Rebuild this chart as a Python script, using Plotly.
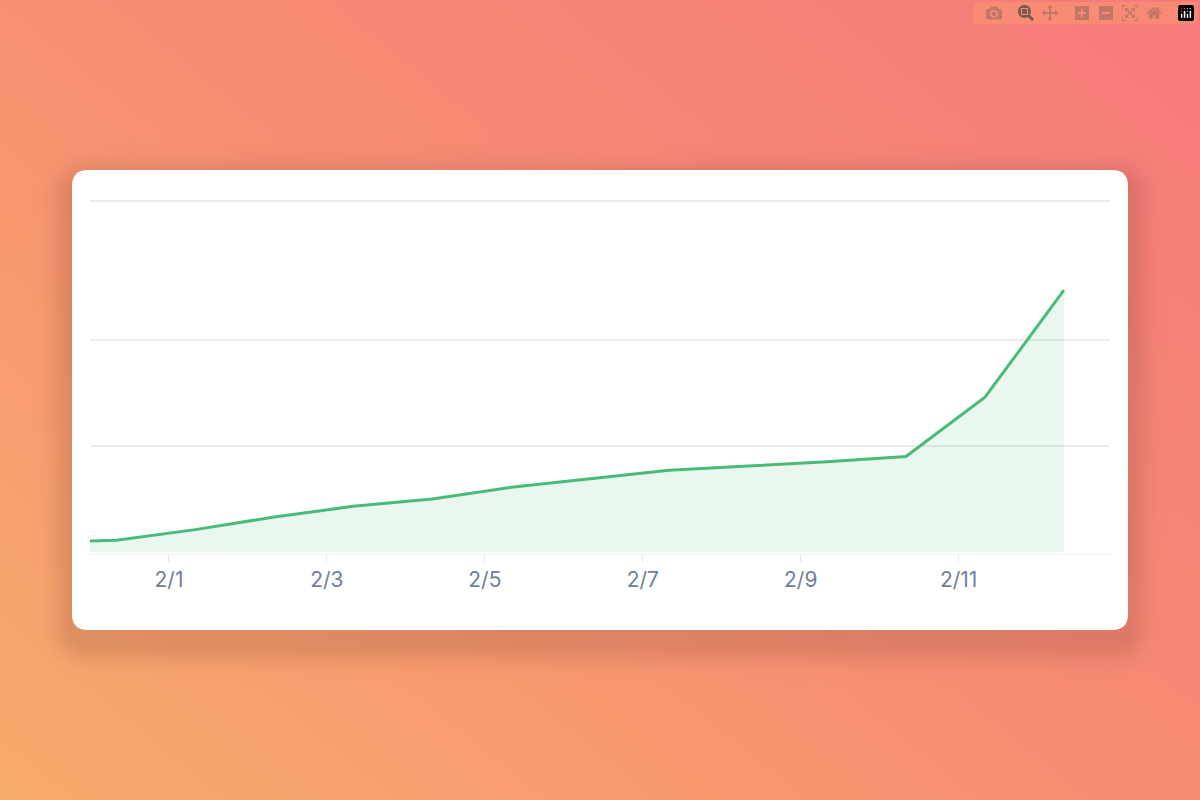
import base64
import struct
import zlib

import numpy as np
import plotly.graph_objects as go

# data (one point per day)
dates = ['2024-01-30 08:00', '2024-01-31 08:00', '2024-02-01 08:00', '2024-02-02 08:00',
         '2024-02-03 08:00', '2024-02-04 08:00', '2024-02-05 08:00', '2024-02-06 08:00',
         '2024-02-07 08:00', '2024-02-08 08:00', '2024-02-09 08:00', '2024-02-10 08:00',
         '2024-02-11 08:00', '2024-02-12 08:00']
values = [9, 11, 21, 33, 43, 50, 61, 69, 77, 81, 85, 90, 146, 247]
tick_dates = ['2024-02-01', '2024-02-03', '2024-02-05', '2024-02-07', '2024-02-09', '2024-02-11']
tick_labels = ['2/1', '2/3', '2/5', '2/7', '2/9', '2/11']

W, H = 1200, 800
card = (72, 170, 1128, 630, 16)


def background_png():
    yy, xx = np.mgrid[0:H, 0:W].astype(float)
    t = np.clip((xx / W) * 0.55 + (1 - yy / H) * 0.45, 0, 1)
    c0 = np.array([248, 172, 108.0])
    c1 = np.array([247, 142, 114.0])
    c2 = np.array([246, 122, 124.0])
    t3 = t[..., None]
    img = np.where(t3 < 0.5, c0 + (c1 - c0) * (t3 / 0.5), c1 + (c2 - c1) * ((t3 - 0.5) / 0.5))
    # soft shadow under the card
    x0, y0, x1, y1, r = card
    cy = yy - 12
    dx = np.maximum(np.maximum(x0 + r - xx, xx - (x1 - r)), 0)
    dy = np.maximum(np.maximum(y0 + r - cy, cy - (y1 - r)), 0)
    d = np.sqrt(dx ** 2 + dy ** 2) - r
    a = 0.2 * np.exp(-np.clip(d, 0, None) ** 2 / (2 * 14.0 ** 2))
    img = img * (1 - a[..., None]) + np.array([120, 60, 50.0]) * a[..., None]
    img = np.clip(img, 0, 255).astype(np.uint8)
    raw = b''.join(b'\x00' + img[i].tobytes() for i in range(H))

    def chunk(tag, data):
        return struct.pack('>I', len(data)) + tag + data + struct.pack('>I', zlib.crc32(tag + data) & 0xffffffff)

    png = (b'\x89PNG\r\n\x1a\n' + chunk(b'IHDR', struct.pack('>IIBBBBB', W, H, 8, 2, 0, 0, 0))
           + chunk(b'IDAT', zlib.compress(raw, 9)) + chunk(b'IEND', b''))
    return 'data:image/png;base64,' + base64.b64encode(png).decode()


def rounded_rect(x0, y0, x1, y1, r):
    X = lambda v: v / W
    Y = lambda v: 1 - v / H
    rx, ry = r / W, r / H
    return (f'M {X(x0)+rx},{Y(y0)} L {X(x1)-rx},{Y(y0)} Q {X(x1)},{Y(y0)} {X(x1)},{Y(y0)-ry} '
            f'L {X(x1)},{Y(y1)+ry} Q {X(x1)},{Y(y1)} {X(x1)-rx},{Y(y1)} '
            f'L {X(x0)+rx},{Y(y1)} Q {X(x0)},{Y(y1)} {X(x0)},{Y(y1)+ry} '
            f'L {X(x0)},{Y(y0)-ry} Q {X(x0)},{Y(y0)} {X(x0)+rx},{Y(y0)} Z')


fig = go.Figure()
fig.add_trace(go.Scatter(
    x=dates, y=values, mode='lines',
    line=dict(color='#48bb78', width=3),
    fill='tozeroy', fillcolor='rgba(72,187,120,0.12)',
    hoverinfo='skip', showlegend=False
))

fig.update_layout(
    width=W, height=H,
    margin=dict(l=0, r=0, t=0, b=0),
    paper_bgcolor='#f79a6e', plot_bgcolor='rgba(0,0,0,0)',
    images=[dict(source=background_png(), xref='paper', yref='paper', x=0, y=1,
                 sizex=1, sizey=1, sizing='stretch', layer='below')],
    shapes=[dict(type='path', xref='paper', yref='paper', path=rounded_rect(*card),
                 fillcolor='white', line=dict(width=0), layer='below')],
    xaxis=dict(
        domain=[90 / W, 1110 / W],
        range=['2024-01-31 00:00', '2024-02-12 22:00'],
        tickvals=tick_dates, ticktext=tick_labels,
        tickfont=dict(family='Inter', size=21, color='#718096'),
        ticks='outside', ticklen=7, tickcolor='#e2e8f0',
        showgrid=False, zeroline=False,
        showline=True, linecolor='#edf2f7', linewidth=1
    ),
    yaxis=dict(
        domain=[1 - 554 / H, 1 - 197 / H],
        range=[-2, 335],
        tickvals=[100, 200, 331], showticklabels=False,
        showgrid=True, gridcolor='#e9ecf1', gridwidth=1.5,
        zeroline=False, fixedrange=True
    ),
)

fig.write_html('out.html', post_script="document.body.style.margin='0';")
